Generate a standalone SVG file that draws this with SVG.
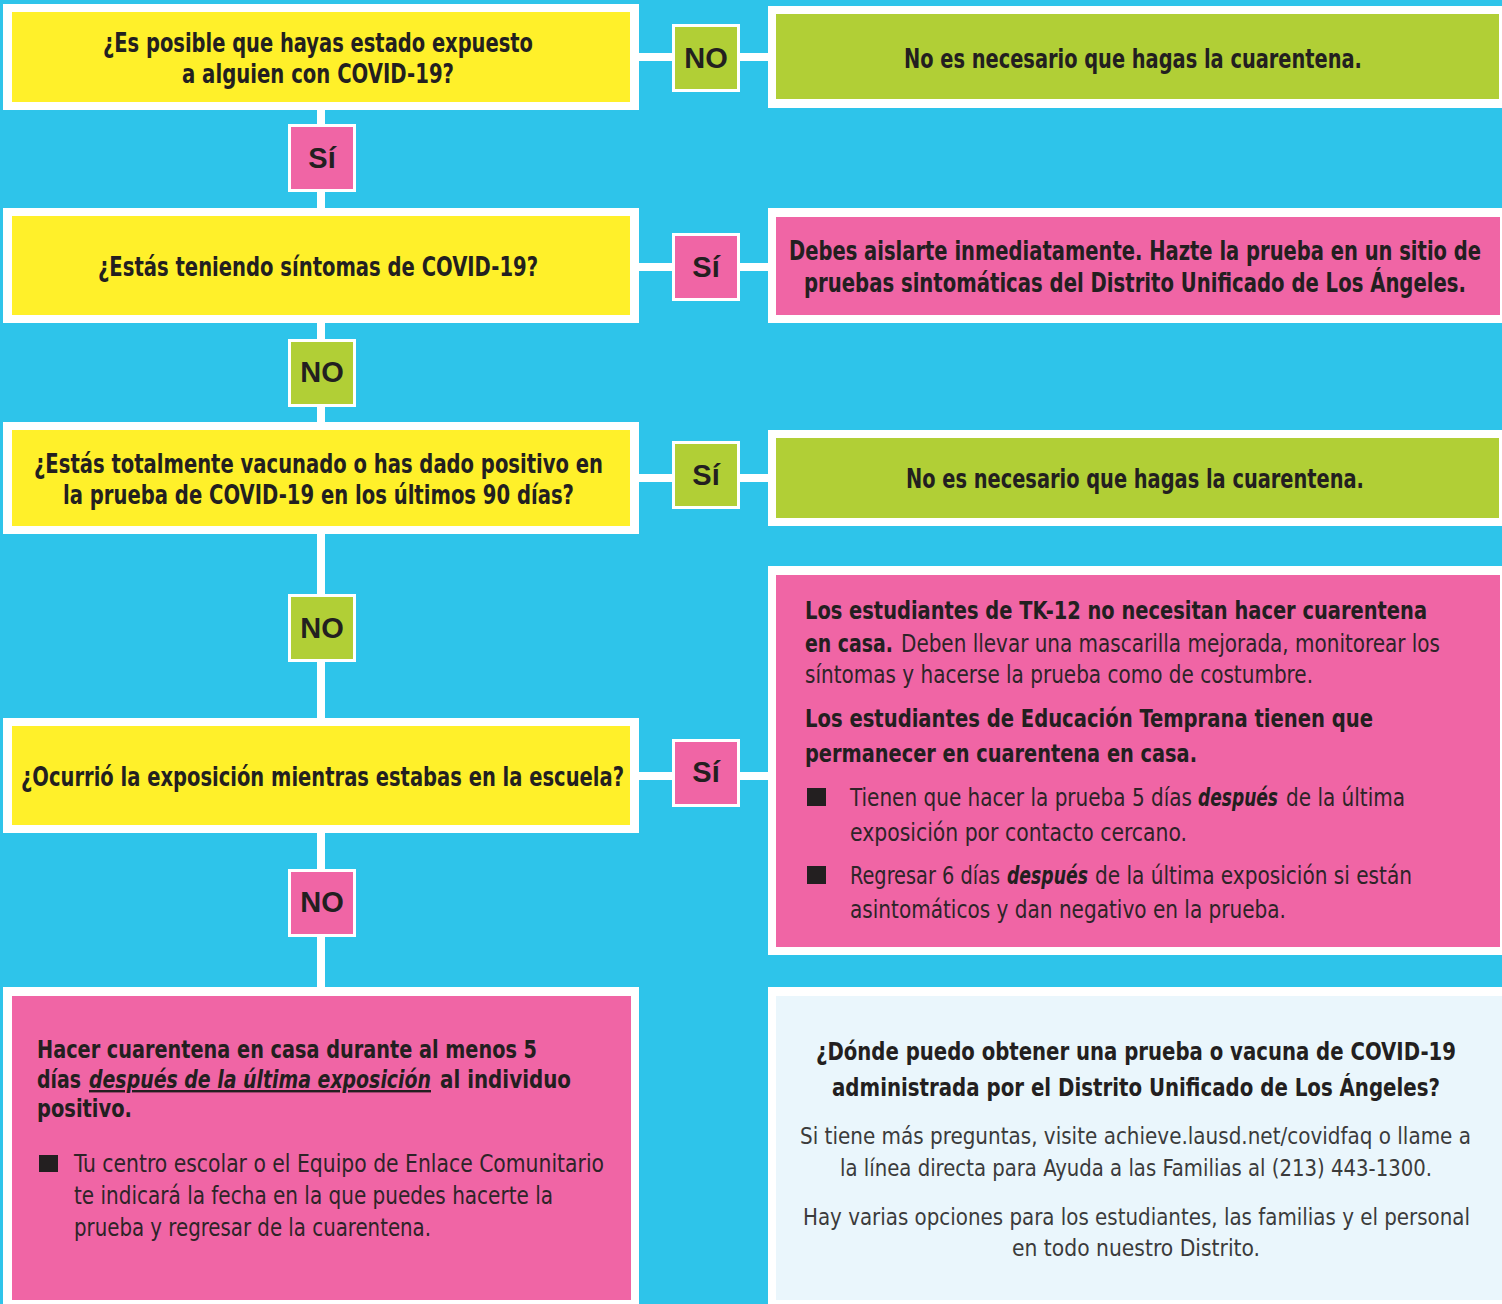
<svg xmlns="http://www.w3.org/2000/svg" width="1502" height="1304" viewBox="0 0 1502 1304">
<style>
.w{fill:#FFFFFF}
.yel{fill:#FFF02A}
.grn{fill:#B1CF36}
.pnk{fill:#F065A5}
.lb{fill:#EAF6FC}
.bd{font-family:"Liberation Sans Narrow","DejaVu Sans Condensed","Liberation Sans",sans-serif;font-weight:700;fill:#231F20}
.lt{font-family:"Liberation Sans Narrow","DejaVu Sans Condensed","Liberation Sans",sans-serif;font-weight:400;fill:#2E2428}
.gr{fill:#3B3B3B}
.it{font-style:italic}
.ul{text-decoration:underline}
.q{font-size:26px}
.s{font-size:24px}
.s2{font-size:23px}
.lbl{font-family:"Liberation Sans","Open Sans",sans-serif;font-weight:700;font-size:29px;fill:#231F20;text-anchor:middle}
.conn{stroke:#FFFFFF;stroke-width:8;fill:none}
.bul{fill:#231F20}
</style>
<rect x="0" y="0" width="1502" height="1304" fill="#2EC4EA"/>

<g id="connectors">
<line class="conn" x1="639" y1="57" x2="672" y2="57"/>
<line class="conn" x1="740" y1="57" x2="768" y2="57"/>
<line class="conn" x1="639" y1="267" x2="672" y2="267"/>
<line class="conn" x1="740" y1="267" x2="768" y2="267"/>
<line class="conn" x1="639" y1="478" x2="672" y2="478"/>
<line class="conn" x1="740" y1="478" x2="768" y2="478"/>
<line class="conn" x1="639" y1="776" x2="672" y2="776"/>
<line class="conn" x1="740" y1="776" x2="768" y2="776"/>
<line class="conn" x1="321" y1="110" x2="321" y2="124"/>
<line class="conn" x1="321" y1="192" x2="321" y2="208"/>
<line class="conn" x1="321" y1="323" x2="321" y2="339"/>
<line class="conn" x1="321" y1="407" x2="321" y2="422"/>
<line class="conn" x1="321" y1="534" x2="321" y2="594"/>
<line class="conn" x1="321" y1="662" x2="321" y2="718"/>
<line class="conn" x1="321" y1="833" x2="321" y2="869"/>
<line class="conn" x1="321" y1="937" x2="321" y2="987"/>
</g>

<g id="q1">
<rect class="w" x="3" y="4" width="636" height="106"/>
<rect class="yel" x="12" y="12" width="618" height="90"/>
<text class="bd q" x="103" y="52" textLength="430" lengthAdjust="spacingAndGlyphs">¿Es posible que hayas estado expuesto</text>
<text class="bd q" x="182" y="83" textLength="272" lengthAdjust="spacingAndGlyphs">a alguien con COVID-19?</text>
</g>

<g id="q2">
<rect class="w" x="3" y="208" width="636" height="115"/>
<rect class="yel" x="12" y="216" width="618" height="99"/>
<text class="bd q" x="98" y="276" textLength="440" lengthAdjust="spacingAndGlyphs">¿Estás teniendo síntomas de COVID-19?</text>
</g>

<g id="q3">
<rect class="w" x="3" y="422" width="636" height="112"/>
<rect class="yel" x="12" y="430" width="618" height="96"/>
<text class="bd q" x="34" y="473" textLength="569" lengthAdjust="spacingAndGlyphs">¿Estás totalmente vacunado o has dado positivo en</text>
<text class="bd q" x="63" y="504" textLength="511" lengthAdjust="spacingAndGlyphs">la prueba de COVID-19 en los últimos 90 días?</text>
</g>

<g id="q4">
<rect class="w" x="3" y="718" width="636" height="115"/>
<rect class="yel" x="12" y="726" width="618" height="99"/>
<text class="bd q" x="21" y="786" textLength="603" lengthAdjust="spacingAndGlyphs">¿Ocurrió la exposición mientras estabas en la escuela?</text>
</g>

<g id="r1">
<rect class="w" x="768" y="6" width="734" height="102"/>
<rect class="grn" x="776" y="14" width="723" height="85"/>
<text class="bd q" x="904" y="68" textLength="458" lengthAdjust="spacingAndGlyphs">No es necesario que hagas la cuarentena.</text>
</g>

<g id="r2">
<rect class="w" x="768" y="208" width="734" height="115"/>
<rect class="pnk" x="776" y="217" width="724" height="98"/>
<text class="bd q" x="789" y="260" textLength="692" lengthAdjust="spacingAndGlyphs">Debes aislarte inmediatamente. Hazte la prueba en un sitio de</text>
<text class="bd q" x="804" y="292" textLength="662" lengthAdjust="spacingAndGlyphs">pruebas sintomáticas del Distrito Unificado de Los Ángeles.</text>
</g>

<g id="r3">
<rect class="w" x="768" y="430" width="734" height="96"/>
<rect class="grn" x="776" y="438" width="723" height="80"/>
<text class="bd q" x="906" y="488" textLength="458" lengthAdjust="spacingAndGlyphs">No es necesario que hagas la cuarentena.</text>
</g>

<g id="r4">
<rect class="w" x="768" y="566" width="734" height="389"/>
<rect class="pnk" x="776" y="575" width="724" height="372"/>
<text class="bd s" x="805" y="619" textLength="622" lengthAdjust="spacingAndGlyphs">Los estudiantes de TK-12 no necesitan hacer cuarentena</text>
<text class="bd s" x="805" y="652" textLength="88" lengthAdjust="spacingAndGlyphs">en casa.</text>
<text class="lt s" x="901" y="652" textLength="539" lengthAdjust="spacingAndGlyphs">Deben llevar una mascarilla mejorada, monitorear los</text>
<text class="lt s" x="805" y="683" textLength="508" lengthAdjust="spacingAndGlyphs">síntomas y hacerse la prueba como de costumbre.</text>
<text class="bd s" x="805" y="727" textLength="568" lengthAdjust="spacingAndGlyphs">Los estudiantes de Educación Temprana tienen que</text>
<text class="bd s" x="805" y="762" textLength="392" lengthAdjust="spacingAndGlyphs">permanecer en cuarentena en casa.</text>
<rect class="bul" x="807" y="788" width="19" height="18"/>
<text class="lt s" x="850" y="806" textLength="342" lengthAdjust="spacingAndGlyphs">Tienen que hacer la prueba 5 días</text>
<text class="bd it s" x="1198" y="806" textLength="80" lengthAdjust="spacingAndGlyphs">después</text>
<text class="lt s" x="1286" y="806" textLength="119" lengthAdjust="spacingAndGlyphs">de la última</text>
<text class="lt s" x="850" y="841" textLength="337" lengthAdjust="spacingAndGlyphs">exposición por contacto cercano.</text>
<rect class="bul" x="807" y="866" width="19" height="18"/>
<text class="lt s" x="850" y="884" textLength="150" lengthAdjust="spacingAndGlyphs">Regresar 6 días</text>
<text class="bd it s" x="1007" y="884" textLength="81" lengthAdjust="spacingAndGlyphs">después</text>
<text class="lt s" x="1095" y="884" textLength="317" lengthAdjust="spacingAndGlyphs">de la última exposición si están</text>
<text class="lt s" x="850" y="918" textLength="436" lengthAdjust="spacingAndGlyphs">asintomáticos y dan negativo en la prueba.</text>
</g>

<g id="r5">
<rect class="w" x="3" y="987" width="636" height="317"/>
<rect class="pnk" x="12" y="996" width="619" height="304"/>
<text class="bd s" x="37" y="1058" textLength="500" lengthAdjust="spacingAndGlyphs">Hacer cuarentena en casa durante al menos 5</text>
<text class="bd s" x="37" y="1088" textLength="44" lengthAdjust="spacingAndGlyphs">días</text>
<text class="bd it ul s" x="89" y="1088" textLength="342" lengthAdjust="spacingAndGlyphs">después de la última exposición</text>
<text class="bd s" x="440" y="1088" textLength="131" lengthAdjust="spacingAndGlyphs">al individuo</text>
<text class="bd s" x="37" y="1117" textLength="95" lengthAdjust="spacingAndGlyphs">positivo.</text>
<rect class="bul" x="39" y="1155" width="19" height="17"/>
<text class="lt s" x="74" y="1172" textLength="530" lengthAdjust="spacingAndGlyphs">Tu centro escolar o el Equipo de Enlace Comunitario</text>
<text class="lt s" x="74" y="1204" textLength="479" lengthAdjust="spacingAndGlyphs">te indicará la fecha en la que puedes hacerte la</text>
<text class="lt s" x="74" y="1236" textLength="357" lengthAdjust="spacingAndGlyphs">prueba y regresar de la cuarentena.</text>
</g>

<g id="r6">
<rect class="w" x="768" y="987" width="734" height="317"/>
<rect class="lb" x="776" y="996" width="726" height="304"/>
<text class="bd s" x="816" y="1060" textLength="640" lengthAdjust="spacingAndGlyphs">¿Dónde puedo obtener una prueba o vacuna de COVID-19</text>
<text class="bd s" x="832" y="1096" textLength="608" lengthAdjust="spacingAndGlyphs">administrada por el Distrito Unificado de Los Ángeles?</text>
<text class="lt gr s2" x="800" y="1144" textLength="671" lengthAdjust="spacingAndGlyphs">Si tiene más preguntas, visite achieve.lausd.net/covidfaq o llame a</text>
<text class="lt gr s2" x="840" y="1176" textLength="592" lengthAdjust="spacingAndGlyphs">la línea directa para Ayuda a las Familias al (213) 443-1300.</text>
<text class="lt gr s2" x="803" y="1225" textLength="667" lengthAdjust="spacingAndGlyphs">Hay varias opciones para los estudiantes, las familias y el personal</text>
<text class="lt gr s2" x="1012" y="1256" textLength="248" lengthAdjust="spacingAndGlyphs">en todo nuestro Distrito.</text>
</g>

<g id="lbl-no1">
<rect class="w" x="672" y="24" width="68" height="68"/>
<rect class="grn" x="675" y="27" width="62" height="62"/>
<text class="lbl" x="706" y="68">NO</text>
</g>
<g id="lbl-si1">
<rect class="w" x="288" y="124" width="68" height="68"/>
<rect class="pnk" x="291" y="127" width="62" height="62"/>
<text class="lbl" x="322" y="168">Sí</text>
</g>
<g id="lbl-si2">
<rect class="w" x="672" y="233" width="68" height="68"/>
<rect class="pnk" x="675" y="236" width="62" height="62"/>
<text class="lbl" x="706" y="277">Sí</text>
</g>
<g id="lbl-no2">
<rect class="w" x="288" y="339" width="68" height="68"/>
<rect class="grn" x="291" y="342" width="62" height="62"/>
<text class="lbl" x="322" y="382">NO</text>
</g>
<g id="lbl-si3">
<rect class="w" x="672" y="441" width="68" height="68"/>
<rect class="grn" x="675" y="444" width="62" height="62"/>
<text class="lbl" x="706" y="485">Sí</text>
</g>
<g id="lbl-no3">
<rect class="w" x="288" y="594" width="68" height="68"/>
<rect class="grn" x="291" y="597" width="62" height="62"/>
<text class="lbl" x="322" y="638">NO</text>
</g>
<g id="lbl-si4">
<rect class="w" x="672" y="739" width="68" height="68"/>
<rect class="pnk" x="675" y="742" width="62" height="62"/>
<text class="lbl" x="706" y="782">Sí</text>
</g>
<g id="lbl-no4">
<rect class="w" x="288" y="869" width="68" height="68"/>
<rect class="pnk" x="291" y="872" width="62" height="62"/>
<text class="lbl" x="322" y="912">NO</text>
</g>
</svg>
